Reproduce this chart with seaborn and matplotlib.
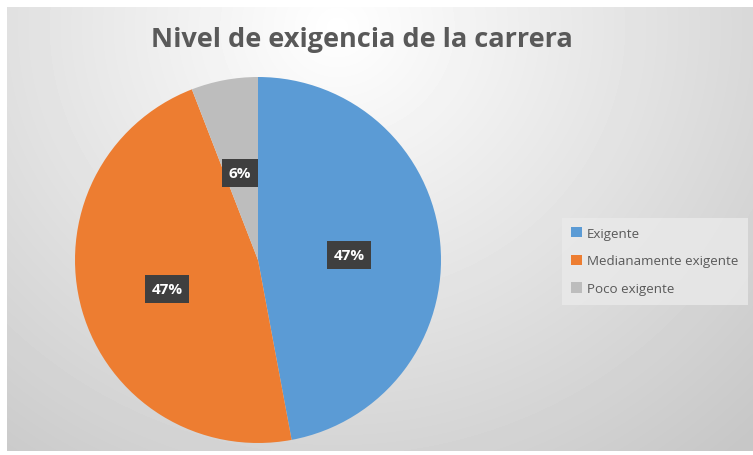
import numpy as np
import seaborn as sns
import matplotlib.pyplot as plt

categories = ["Exigente", "Medianamente exigente", "Poco exigente"]
counts = [8, 8, 1]
pct_labels = ["47%", "47%", "6%"]

sns.set_theme(style="white")
plt.rcParams['font.family'] = ['Open Sans', 'DejaVu Sans']
colors = ["#5B9BD5", "#ED7D31", "#BDBDBD"]

fig = plt.figure(figsize=(7.53, 4.56), dpi=100)
fig.patch.set_facecolor("white")

# gradient background of the chart area (radial, like the Excel style)
bg = fig.add_axes([7 / 753, 4 / 456, 746 / 753, 444 / 456])
bg.set_axis_off()
h, w = 444, 746
yy, xx = np.mgrid[0:h, 0:w]
d = np.sqrt(((xx - 330) / 600.0) ** 2 + ((yy - 20) / 560.0) ** 2)
shade = 1.0 - 0.22 * np.clip(d, 0, 1)
bg.imshow(shade, cmap="gray", vmin=0, vmax=1, aspect="auto", interpolation="bilinear")

# the pie
ax = fig.add_axes([75 / 753, (456 - 444) / 456, 366 / 753, 366 / 456])
wedges, _ = ax.pie(counts, colors=colors, startangle=90, counterclock=False,
                   wedgeprops=dict(linewidth=0))
ax.set_xlim(-1, 1)
ax.set_ylim(-1, 1)
ax.set_aspect("equal")

label_pos = [(349, 256), (167, 290), (240, 174)]
for (px, py), lab in zip(label_pos, pct_labels):
    fig.text(px / 753, 1 - py / 456, lab, ha="center", va="center",
             color="white", fontsize=11, fontweight="bold",
             bbox=dict(boxstyle="square,pad=0.45", facecolor="#3F3F3F", edgecolor="none"))

fig.text(362 / 753, 1 - 40 / 456, "Nivel de exigencia de la carrera",
         ha="center", va="center", fontsize=19.5, fontweight="bold", color="#595959")

leg = fig.legend(wedges, categories, loc="center left",
                 bbox_to_anchor=(555 / 753, 1 - 262 / 456), frameon=True,
                 fontsize=9.6, labelcolor="#595959", handlelength=0.8, handleheight=0.8,
                 handletextpad=0.4, labelspacing=1.1, borderpad=0.7, fancybox=False)
leg.get_frame().set_facecolor("#EAEAEA")
leg.get_frame().set_edgecolor("none")
leg.get_frame().set_alpha(0.8)

fig.savefig("out.png", dpi=100)
